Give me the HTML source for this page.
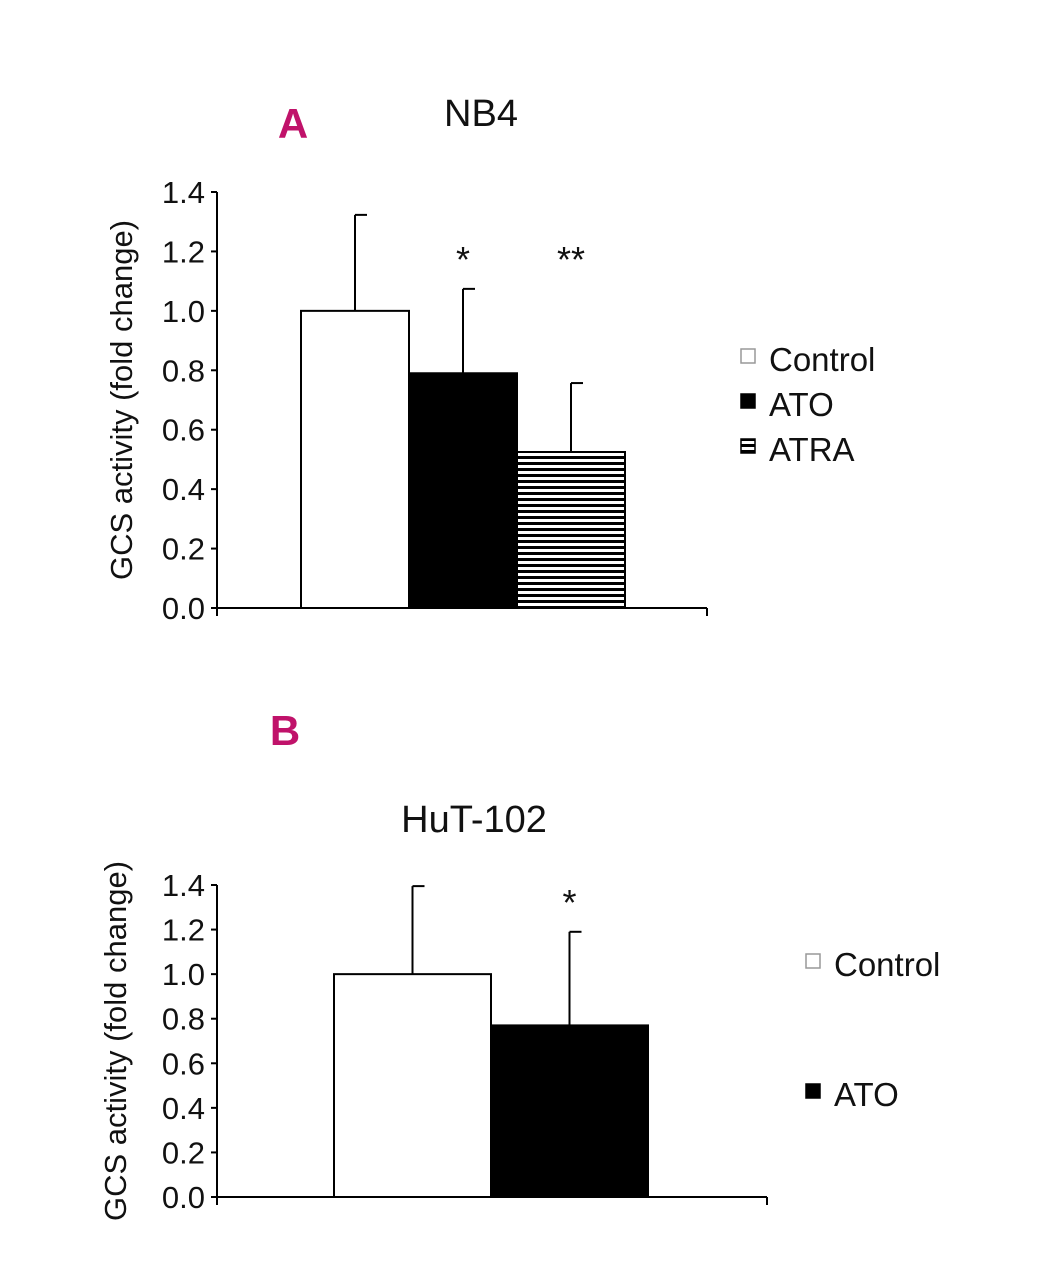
<!DOCTYPE html>
<html><head><meta charset="utf-8"><style>
html,body{margin:0;padding:0;background:#fff;}
svg text{font-family:"Liberation Sans Narrow","Liberation Sans",sans-serif;fill:#111;}
</style></head><body>
<svg id="s" width="1051" height="1280" viewBox="0 0 1051 1280">
<defs>
<pattern id="stripes" patternUnits="userSpaceOnUse" width="8" height="6">
<rect x="0" y="0" width="8" height="3" fill="#000"/>
</pattern>
</defs>
</svg>
<script>
const NS="http://www.w3.org/2000/svg";
const svg=document.getElementById('s');
const aCats=["Control","ATO","ATRA"];
const aVals=[1.0,0.79,0.525];
const aErr=[0.323,0.284,0.232];
const aStars=["","*","**"];
const bCats=["Control","ATO"];
const bVals=[1.0,0.77];
const bErr=[0.395,0.42];
const bStars=["","*"];
const yTicks=["0.0","0.2","0.4","0.6","0.8","1.0","1.2","1.4"];
const fills={"Control":"#fff","ATO":"#000","ATRA":"url(#stripes)"};
function mk(tag,attrs,parent){const e=document.createElementNS(NS,tag);for(const k in attrs)e.setAttribute(k,attrs[k]);(parent||svg).appendChild(e);return e;}
function chart(cfg){
  const g=mk('g',{});
  
  
  const y=v=>cfg.y0-(v/1.4)*(cfg.y0-cfg.y1);
  const ax=mk('line',{x1:cfg.ax,y1:cfg.y1,x2:cfg.ax,y2:cfg.y0,stroke:'#000','stroke-width':2},g);
  
  const xa=mk('line',{x1:cfg.ax,y1:cfg.y0,x2:cfg.xEnd,y2:cfg.y0,stroke:'#000','stroke-width':2},g);
  
  mk('line',{x1:cfg.xEnd,y1:cfg.y0,x2:cfg.xEnd,y2:cfg.y0+8,stroke:'#000','stroke-width':2},g);
  mk('line',{x1:cfg.ax,y1:cfg.y0,x2:cfg.ax,y2:cfg.y0+8,stroke:'#000','stroke-width':2},g);
  yTicks.forEach((t,i)=>{const v=parseFloat(t);const yy=y(v);
    mk('line',{x1:cfg.ax-6,y1:yy,x2:cfg.ax,y2:yy,stroke:'#000','stroke-width':2},g);
    const tx=mk('text',{x:cfg.ax-12,y:yy+11,'text-anchor':'end','font-size':31},g);tx.textContent=t;
    });
  const yt=mk('text',{transform:`translate(${cfg.ytx},${(cfg.y0+cfg.y1)/2}) rotate(-90)`,'text-anchor':'middle','font-size':31},g);
  yt.textContent='GCS activity (fold change)';
  cfg.cats.forEach((c,i)=>{const x=cfg.bx+i*cfg.bw;const top=y(cfg.vals[i]);const cx=x+cfg.bw/2;const et=y(cfg.vals[i]+cfg.err[i]);
    mk('line',{x1:cx,y1:top,x2:cx,y2:et,stroke:'#000','stroke-width':2},g);
    mk('line',{x1:cx,y1:et,x2:cx+12,y2:et,stroke:'#000','stroke-width':2},g);
    const r=mk('rect',{x:x,y:top,width:cfg.bw,height:cfg.y0-top,fill:fills[c],stroke:'#000','stroke-width':2},g);
    
    if(cfg.stars[i]){const s=mk('text',{x:cx,y:cfg.starY,'text-anchor':'middle','font-size':36},g);s.textContent=cfg.stars[i];
      }
  });
  cfg.cats.forEach((c,i)=>{const ly=cfg.ly+i*cfg.lgap;
    const r=mk('rect',{x:cfg.lx,y:ly-8,width:14,height:14,fill:fills[c],stroke:c==='Control'?'#999':'#000','stroke-width':1.5},g);
    
    const t=mk('text',{x:cfg.lx+28,y:ly+14,'font-size':33},g);t.textContent=c;
    });
  const ti=mk('text',{x:cfg.tx,y:cfg.ty,'text-anchor':'middle','font-size':38},g);ti.textContent=cfg.title;
  
  const p=mk('text',{x:cfg.px,y:cfg.py,'text-anchor':'middle','font-size':42,'font-weight':'bold',style:'fill:#c0126a'},g);p.textContent=cfg.panel;
  
}
chart({name:'chart-a-nb4',cats:aCats,vals:aVals,err:aErr,stars:aStars,starY:272,ax:217,y0:608,y1:192,xEnd:707,bx:301,bw:108,ytx:132,lx:741,ly:357,lgap:45,title:'NB4',tx:481,ty:126,panel:'A',px:293,py:138});
chart({name:'chart-b-hut102',cats:bCats,vals:bVals,err:bErr,stars:bStars,starY:915,ax:217,y0:1197,y1:885,xEnd:767,bx:334,bw:157,ytx:126,lx:806,ly:962,lgap:130,title:'HuT-102',tx:474,ty:832,panel:'B',px:285,py:745});
</script>
</body></html>
